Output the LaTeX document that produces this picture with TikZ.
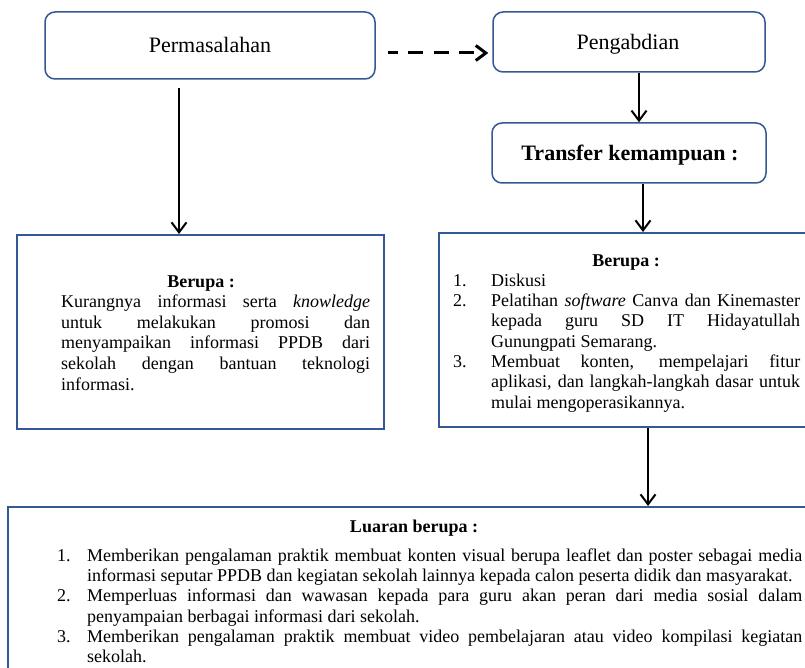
\documentclass[tikz,border=0pt]{standalone}
\usepackage{fontspec}
\setmainfont{Liberation Serif}
\usetikzlibrary{arrows.meta,calc}
\definecolor{boxblue}{RGB}{52,88,150}
\newcommand{\litem}[2]{\hangindent=#1\relax\hangafter=1\makebox[#1][l]{#2}\ignorespaces}
\newcommand{\bodysetup}{\hyphenpenalty=10000\exhyphenpenalty=10000\tolerance=10000\parindent=0pt\parskip=0pt}
\tikzset{
  rbox/.style={draw=boxblue, line width=1.5pt, rounded corners=10pt, fill=white, inner sep=0pt},
  sbox/.style={draw=boxblue, line width=2pt, fill=white, inner sep=0pt},
  head/.style={font=\fontsize{22}{26}\selectfont, anchor=base, inner sep=0pt},
  headb/.style={font=\fontsize{22}{26}\selectfont\bfseries, anchor=base, inner sep=0pt},
  sub/.style={font=\fontsize{18}{20.5}\selectfont\bfseries, anchor=base, inner sep=0pt},
  para/.style={anchor=base west, inner sep=0pt, align=justify},
  arr/.style={line width=2pt, -{Straight Barb[length=10pt,width=15pt]}},
  darr/.style={line width=3pt, dash pattern=on 15pt off 10.5pt, dash phase=5pt, -{Straight Barb[length=10pt,width=15pt]}}
}
\begin{document}
\begin{tikzpicture}[x=1pt,y=-1pt]
\useasboundingbox (0,0) rectangle (805,668);
\clip (0,0) rectangle (805,668);
\fill[white] (0,0) rectangle (805,668);
% boxes
\node[rbox, minimum width=330pt, minimum height=67pt] (perm) at (210,45.5) {};
\node[rbox, minimum width=272pt, minimum height=60pt] (peng) at (629,42) {};
\node[rbox, minimum width=274pt, minimum height=60pt] (trans) at (629,153) {};
\node[sbox, minimum width=367pt, minimum height=194pt] (lbox) at (200.5,332) {};
\node[sbox, minimum width=391pt, minimum height=194pt] (rbox) at (634.5,330) {};
\node[sbox, minimum width=822pt, minimum height=193pt] (bbox) at (419,603.5) {};
% headings
\node[head] (permtxt) at (210,53) {Permasalahan};
\node[head] (pengtxt) at (628,50) {Pengabdian};
\node[headb] (transtxt) at (630,161) {Transfer kemampuan :};
\node[sub] (lsub) at (201,287) {Berupa :};
\node[sub] (rsub) at (626,266) {Berupa :};
\node[sub] (bsub) at (414,532) {Luaran berupa :};
% left paragraph
\node[para, text width=309pt, font=\fontsize{18}{20.7}\selectfont] (ltext) at (61,307.3) {\bodysetup
Kurangnya informasi serta \textit{knowledge}\linebreak
untuk melakukan promosi dan\linebreak
menyampaikan informasi PPDB dari\linebreak
sekolah dengan bantuan teknologi\linebreak
informasi.\par};
% right list
\node[para, text width=347pt, font=\fontsize{18}{20.35}\selectfont] (rtext) at (453,286) {\bodysetup
\litem{38pt}{1.}Diskusi\par
\litem{38pt}{2.}Pelatihan \textit{software} Canva dan Kinemaster\linebreak
kepada guru SD IT Hidayatullah\linebreak
Gunungpati Semarang.\par
\litem{38pt}{3.}Membuat konten, mempelajari fitur\linebreak
aplikasi, dan langkah-langkah dasar untuk\linebreak
mulai mengoperasikannya.\par};
% bottom list
\node[para, text width=745pt, font=\fontsize{18}{20.1}\selectfont] (btext) at (57,561.7) {\bodysetup
\litem{30pt}{1.}Memberikan pengalaman praktik membuat konten visual berupa leaflet dan poster sebagai media\linebreak
informasi seputar PPDB dan kegiatan sekolah lainnya kepada calon peserta didik dan masyarakat.\par
\litem{30pt}{2.}Memperluas informasi dan wawasan kepada para guru akan peran dari media sosial dalam\linebreak
penyampaian berbagai informasi dari sekolah.\par
\litem{30pt}{3.}Memberikan pengalaman praktik membuat video pembelajaran atau video kompilasi kegiatan\linebreak
sekolah.\par};
% connectors
\coordinate (lstart) at ($(perm.south)+(-31,8)$);
\draw[arr] (lstart) -- (lstart |- lbox.north);
\draw[darr] ($(perm.east)+(12,7.5)$) -- ($(peng.west)+(-4,11)$);
\draw[arr] ([xshift=10pt]peng.south) -- ([xshift=10pt]trans.north);
\draw[arr] ([xshift=14pt]trans.south) -- ([xshift=14pt]trans.south |- rbox.north);
\draw[arr] ([xshift=19pt]trans.south |- rbox.south) -- ([xshift=19pt]trans.south |- bbox.north);
\end{tikzpicture}
\end{document}
